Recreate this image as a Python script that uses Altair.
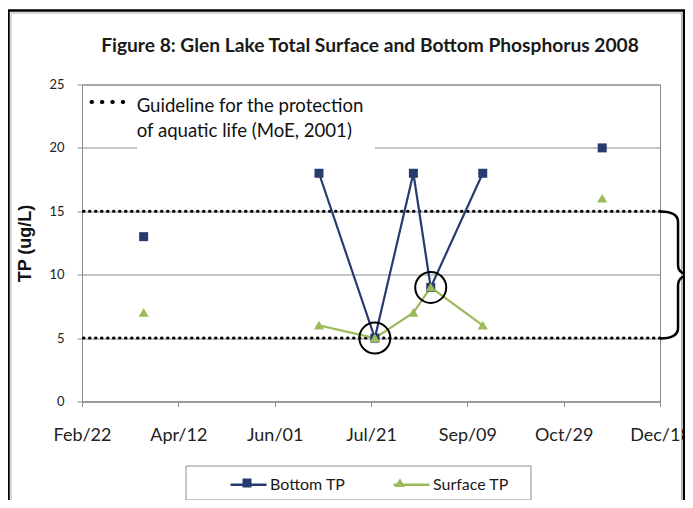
import altair as alt
import pandas as pd

# ---------------- data ----------------
TITLE = "Figure 8: Glen Lake Total Surface and Bottom Phosphorus 2008"
sample_dates = ["2008-03-25", "2008-06-24", "2008-07-23", "2008-08-12",
                "2008-08-21", "2008-09-17", "2008-11-18"]
bottom_tp = [13, 18, 5, 18, 9, 18, 20]
surface_tp = [7, 6, 5, 7, 9, 6, 16]
segment = [0, 1, 1, 1, 1, 1, 2]          # consecutive runs joined by lines
series_names = ["Bottom TP", "Surface TP"]
series_colors = ["#283b6e", "#9bbb59"]
guideline_values = [5, 15]
guideline_text = ["Guideline for the protection", "of aquatic life (MoE, 2001)"]
highlight_dates = ["2008-07-23", "2008-08-21"]
highlight_values = [5, 9]
y_ticks = [0, 5, 10, 15, 20, 25]
x_tick_dates = [(2008, 2, 22), (2008, 4, 12), (2008, 6, 1), (2008, 7, 21),
                (2008, 9, 9), (2008, 10, 29), (2008, 12, 18)]

# ---------------- tables ----------------
rows = []
for d, b, s, g in zip(sample_dates, bottom_tp, surface_tp, segment):
    rows.append({"date": d, "value": b, "series": series_names[0], "seriesF": series_names[0], "seg": g})
    rows.append({"date": d, "value": s, "series": series_names[1], "seriesF": series_names[1], "seg": g})
df = pd.DataFrame(rows)
guide_df = pd.DataFrame({"value": guideline_values})
circ_df = pd.DataFrame({"date": highlight_dates, "value": highlight_values})
one = pd.DataFrame({"k": [0]})

W, H = 578, 317


def dt(y, m, d):
    return alt.DateTime(year=y, month=m, date=d, utc=True)


xscale = alt.Scale(type="utc", domain=[dt(*x_tick_dates[0]), dt(*x_tick_dates[-1])])
yscale = alt.Scale(domain=[0, 25], nice=False)

X = alt.X("date:T", scale=xscale,
          axis=alt.Axis(values=[dt(*t) for t in x_tick_dates],
                        labelExpr="utcFormat(datum.value, '%b/%d')",
                        title=None, grid=False,
                        labelFont="Lato", labelFontSize=18, labelColor="#222222",
                        tickSize=5, labelPadding=20, labelFlush=False))
Y = alt.Y("value:Q", scale=yscale,
          axis=alt.Axis(values=y_ticks, title="TP (ug/L)", grid=True,
                        labelFont="Lato", labelFontSize=13, labelColor="#222222",
                        tickSize=5, labelPadding=13,
                        titleFont="Liberation Sans", titleFontSize=18,
                        titleFontWeight="bold", titleColor="#111111",
                        titleX=-57, titleY=H / 2, titleBaseline="middle"))

sq = "M-0.25,-0.25H0.25V0.25H-0.25Z"
tri = "M0,-0.26L0.28,0.22H-0.28Z"
SYM = 1296  # 36 px symbol box

# outer chart frame
frame = alt.Chart(one).mark_rect(filled=False, stroke="black", strokeWidth=2.5).encode(
    x=alt.value(-73.5), x2=alt.value(602), y=alt.value(-74), y2=alt.value(440))
frame_in = alt.Chart(one).mark_rect(filled=False, stroke="#b0b0b0", strokeWidth=1).encode(
    x=alt.value(-71), x2=alt.value(599.5), y=alt.value(-71.5), y2=alt.value(440))

# white text box covering grid
box = alt.Chart(one).mark_rect(fill="white").encode(
    x=alt.value(55), x2=alt.value(293), y=alt.value(3.5), y2=alt.value(67.5))

guides = alt.Chart(guide_df).mark_rule(
    color="black", strokeWidth=3, strokeDash=[0.5, 5.5], strokeCap="round"
).encode(y=alt.Y("value:Q", scale=yscale))

LEG = dict(title=None, orient="none", legendX=147, legendY=380.5, direction="horizontal",
           symbolSize=SYM, padding=0, labelFont="Lato", labelFontSize=16,
           labelColor="#1a1a1a", labelOffset=2)

lines = alt.Chart(df).mark_line(strokeWidth=2.2).encode(
    x=X, y=Y,
    color=alt.Color("series:N", scale=alt.Scale(range=series_colors),
                    legend=alt.Legend(symbolType="stroke", symbolStrokeWidth=2.5, zindex=1,
                                      columnPadding=42, **LEG)),
    detail="seg:N")

points = alt.Chart(df).mark_point(filled=True, size=SYM, opacity=1, strokeWidth=0).encode(
    x=X, y=Y,
    fill=alt.Fill("seriesF:N", scale=alt.Scale(range=series_colors),
                  legend=alt.Legend(symbolStrokeWidth=0, labelExpr="''", zindex=2,
                                    columnPadding=115, **LEG)),
    shape=alt.Shape("seriesF:N", scale=alt.Scale(range=[sq, tri])))

circles = alt.Chart(circ_df).mark_point(
    shape="circle", size=961, filled=False, stroke="black", strokeWidth=2, opacity=1
).encode(x=alt.X("date:T", scale=xscale), y=alt.Y("value:Q", scale=yscale))

brace_path = ("M-0.26,-1 Q0.024,-1 0.024,-0.835 L0.024,-0.157 Q0.024,0 0.26,0 "
              "Q0.024,0 0.024,0.157 L0.024,0.835 Q0.024,1 -0.26,1")
brace = alt.Chart(one).mark_point(
    shape=brace_path, size=127 * 127, filled=False, stroke="black", strokeWidth=2.5, opacity=1
).encode(x=alt.value(594.5), y=alt.value(190.5))

sample = alt.Chart(one).mark_rule(
    color="black", strokeWidth=4, strokeDash=[0.5, 9.9], strokeCap="round"
).encode(x=alt.value(9.5), x2=alt.value(41.5), y=alt.value(17.5))

gtext1 = alt.Chart(one).mark_text(
    text=guideline_text[0], align="left", baseline="alphabetic", font="Lato", fontSize=18.6,
    color="#111111").encode(x=alt.value(54.7), y=alt.value(27.8))
gtext2 = alt.Chart(one).mark_text(
    text=guideline_text[1], align="left", baseline="alphabetic", font="Lato", fontSize=18.6,
    color="#111111").encode(x=alt.value(54.7), y=alt.value(52.2))

title = alt.Chart(one).mark_text(
    text=TITLE, align="center", baseline="alphabetic", font="Lato", fontSize=19.2,
    fontWeight="bold", color="#1a1a1a"
).encode(x=alt.value(288), y=alt.value(-32.8))

legend_box = alt.Chart(one).mark_rect(fill="white", stroke="#8c8c8c", strokeWidth=1).encode(
    x=alt.value(104), x2=alt.value(449), y=alt.value(381.5), y2=alt.value(415.5))

chart = alt.layer(
    frame, frame_in, box, guides, lines, points, circles, brace, sample,
    gtext1, gtext2, title, legend_box
).properties(
    width=W, height=H,
    autosize=alt.AutoSizeParams(type="none"),
    padding={"left": 74, "top": 76.5, "right": 25, "bottom": 98.5},
    background="white",
).configure_view(stroke="#8c8c8c", strokeWidth=1).configure_axis(
    domainColor="#8c8c8c", tickColor="#8c8c8c", gridColor="#8c8c8c", gridWidth=1
)

chart.save("out.html", embed_options={"renderer": "svg", "actions": False})
